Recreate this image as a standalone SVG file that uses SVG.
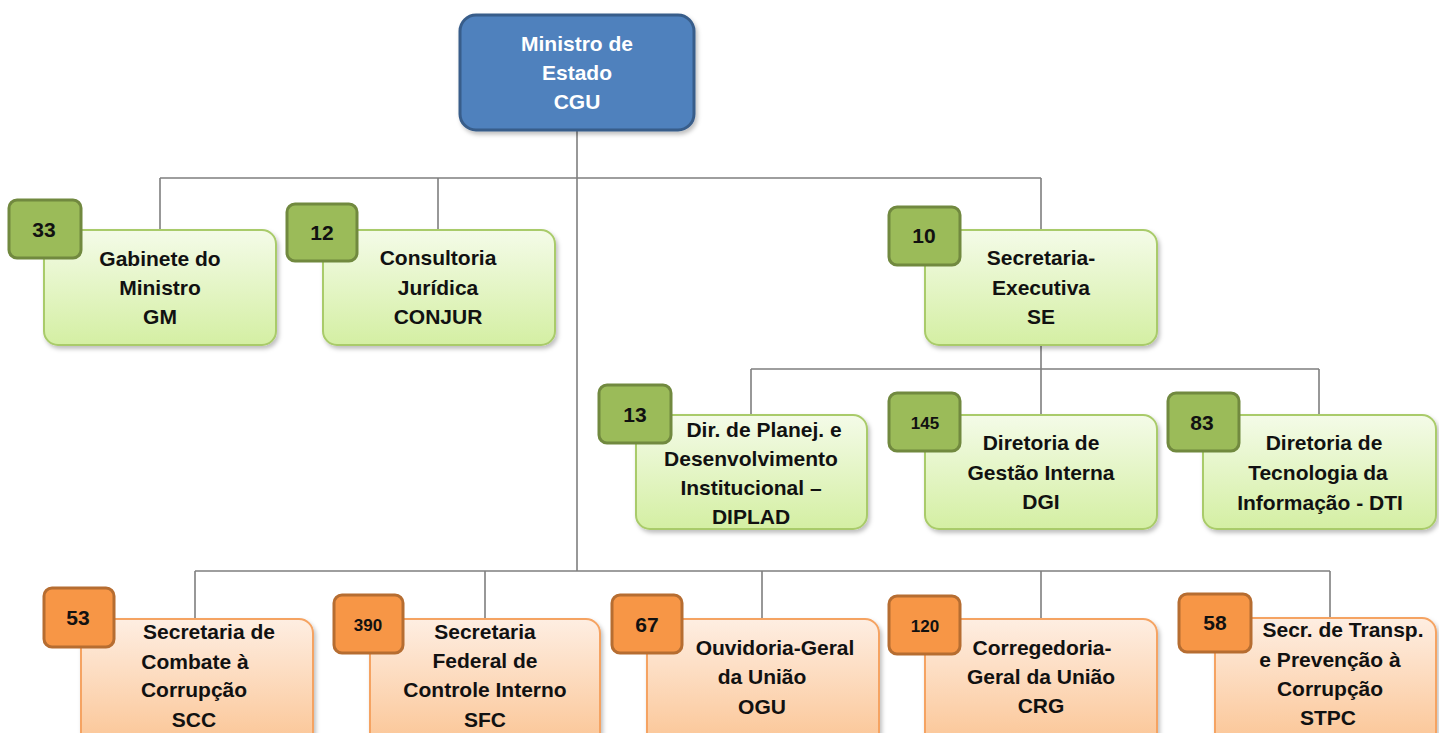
<svg xmlns="http://www.w3.org/2000/svg" width="1439" height="733" viewBox="0 0 1439 733">
<defs>
<linearGradient id="gG" x1="0" y1="0" x2="0" y2="1"><stop offset="0" stop-color="#F4FBE8"/><stop offset="1" stop-color="#D4EFA3"/></linearGradient>
<linearGradient id="gO" x1="0" y1="0" x2="0" y2="1"><stop offset="0" stop-color="#FEEEE2"/><stop offset="1" stop-color="#FBC493"/></linearGradient>
<filter id="sh" x="-10%" y="-10%" width="125%" height="130%"><feDropShadow dx="2" dy="3" stdDeviation="2" flood-color="#000" flood-opacity="0.25"/></filter>
<style>
.conn{stroke:#7F7F7F;stroke-width:1.6;fill:none}
.top{fill:#4F81BD;stroke:#385D8A;stroke-width:3}
.gbox{fill:url(#gG);stroke:#A9CB6A;stroke-width:2}
.obox{fill:url(#gO);stroke:#F5A362;stroke-width:2}
.gbad{fill:#9BBB59;stroke:#71893F;stroke-width:3}
.obad{fill:#F79646;stroke:#B66D31;stroke-width:3}
text{font-family:"Liberation Sans",Arial,sans-serif;font-weight:bold;font-size:21px;fill:#111;text-anchor:middle}
.w{fill:#fff}
.s{font-size:17px}
</style>
</defs>
<rect width="1439" height="733" fill="#fff"/>
<g id="connectors">
<path class="conn" d="M577 131V571M160 178H1041M160 178V230M438 178V230M1041 178V230M1041 345V369M751 369H1319M751 369V415M1041 369V415M1319 369V415M195 571H1330M195 571V619M485 571V619M762 571V619M1041 571V619M1330 571V619"/>
</g>
<g id="n-cgu">
<rect class="top" x="460" y="15" width="234" height="115" rx="16" filter="url(#sh)"/>
<text class="w" x="577" y="51">Ministro de</text>
<text class="w" x="577" y="80">Estado</text>
<text class="w" x="577" y="109">CGU</text>
</g>
<g id="n-gm">
<rect class="gbox" x="44" y="230" width="232" height="115" rx="14" filter="url(#sh)"/>
<rect class="gbad" x="9" y="200" width="72" height="58" rx="8"/>
<text x="44" y="237">33</text>
<text x="160" y="266">Gabinete do</text>
<text x="160" y="295">Ministro</text>
<text x="160" y="324">GM</text>
</g>
<g id="n-conjur">
<rect class="gbox" x="323" y="230" width="232" height="115" rx="14" filter="url(#sh)"/>
<rect class="gbad" x="287" y="204" width="70" height="57" rx="8"/>
<text x="322" y="240">12</text>
<text x="438" y="265">Consultoria</text>
<text x="438" y="295">Jurídica</text>
<text x="438" y="324">CONJUR</text>
</g>
<g id="n-se">
<rect class="gbox" x="925" y="230" width="232" height="115" rx="14" filter="url(#sh)"/>
<rect class="gbad" x="889" y="207" width="71" height="58" rx="8"/>
<text x="924" y="243">10</text>
<text x="1041" y="265">Secretaria-</text>
<text x="1041" y="295">Executiva</text>
<text x="1041" y="324">SE</text>
</g>
<g id="n-diplad">
<rect class="gbox" x="636" y="415" width="231" height="114" rx="14" filter="url(#sh)"/>
<rect class="gbad" x="599" y="385" width="72" height="58" rx="8"/>
<text x="635" y="422">13</text>
<text x="764" y="437">Dir. de Planej. e</text>
<text x="751" y="466">Desenvolvimento</text>
<text x="751" y="495">Institucional –</text>
<text x="751" y="524">DIPLAD</text>
</g>
<g id="n-dgi">
<rect class="gbox" x="925" y="415" width="232" height="114" rx="14" filter="url(#sh)"/>
<rect class="gbad" x="889" y="393" width="71" height="58" rx="8"/>
<text class="s" x="925" y="429">145</text>
<text x="1041" y="450">Diretoria de</text>
<text x="1041" y="480">Gestão Interna</text>
<text x="1041" y="509">DGI</text>
</g>
<g id="n-dti">
<rect class="gbox" x="1203" y="415" width="233" height="114" rx="14" filter="url(#sh)"/>
<rect class="gbad" x="1168" y="393" width="71" height="58" rx="8"/>
<text x="1202" y="430">83</text>
<text x="1324" y="450">Diretoria de</text>
<text x="1318" y="480">Tecnologia  da</text>
<text x="1320" y="510">Informação - DTI</text>
</g>
<g id="n-scc">
<rect class="obox" x="81" y="619" width="232" height="130" rx="14" filter="url(#sh)"/>
<rect class="obad" x="44" y="588" width="70" height="59" rx="8"/>
<text x="78" y="625">53</text>
<text x="209" y="639">Secretaria de</text>
<text x="195" y="669">Combate à</text>
<text x="194" y="697">Corrupção</text>
<text x="194" y="727">SCC</text>
</g>
<g id="n-sfc">
<rect class="obox" x="370" y="619" width="230" height="130" rx="14" filter="url(#sh)"/>
<rect class="obad" x="334" y="595" width="69" height="58" rx="8"/>
<text class="s" x="368" y="631">390</text>
<text x="485" y="639">Secretaria</text>
<text x="485" y="668">Federal de</text>
<text x="485" y="697">Controle Interno</text>
<text x="485" y="727">SFC</text>
</g>
<g id="n-ogu">
<rect class="obox" x="647" y="619" width="232" height="130" rx="14" filter="url(#sh)"/>
<rect class="obad" x="612" y="595" width="70" height="58" rx="8"/>
<text x="647" y="632">67</text>
<text x="775" y="655">Ouvidoria-Geral</text>
<text x="762" y="684">da União</text>
<text x="762" y="714">OGU</text>
</g>
<g id="n-crg">
<rect class="obox" x="925" y="619" width="232" height="130" rx="14" filter="url(#sh)"/>
<rect class="obad" x="889" y="596" width="71" height="58" rx="8"/>
<text class="s" x="925" y="632">120</text>
<text x="1042" y="655">Corregedoria-</text>
<text x="1041" y="684">Geral da União</text>
<text x="1041" y="713">CRG</text>
</g>
<g id="n-stpc">
<rect class="obox" x="1215" y="618" width="221" height="130" rx="14" filter="url(#sh)"/>
<rect class="obad" x="1179" y="594" width="72" height="58" rx="8"/>
<text x="1215" y="630">58</text>
<text x="1343" y="637">Secr. de Transp.</text>
<text x="1330" y="667">e Prevenção à</text>
<text x="1330" y="696">Corrupção</text>
<text x="1328" y="725">STPC</text>
</g>
</svg>
